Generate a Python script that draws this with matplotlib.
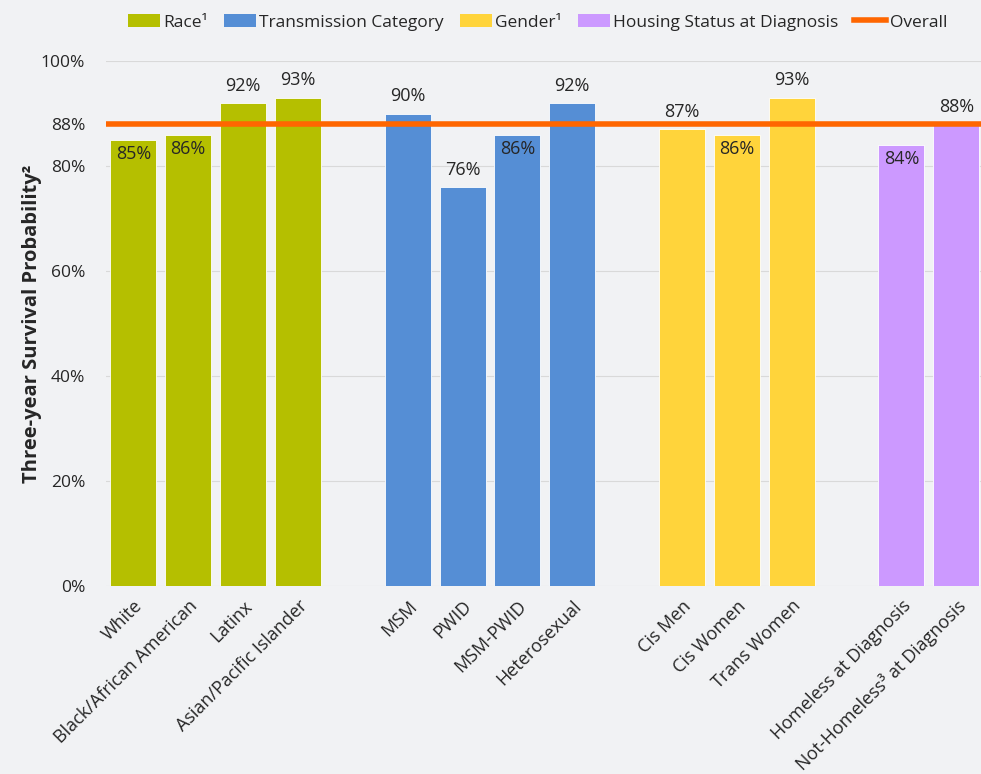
import matplotlib.pyplot as plt
from matplotlib.patches import Patch
from matplotlib.lines import Line2D

plt.rcParams['font.family'] = ['Open Sans', 'DejaVu Sans']

race_labels = ['White', 'Black/African American', 'Latinx', 'Asian/Pacific Islander']
race_values = [85, 86, 92, 93]
trans_labels = ['MSM', 'PWID', 'MSM-PWID', 'Heterosexual']
trans_values = [90, 76, 86, 92]
gender_labels = ['Cis Men', 'Cis Women', 'Trans Women']
gender_values = [87, 86, 93]
housing_labels = ['Homeless at Diagnosis', 'Not-Homeless³ at Diagnosis']
housing_values = [84, 88]
overall = 88

groups = [
    ('Race¹', race_labels, race_values, '#B5BF00'),
    ('Transmission Category', trans_labels, trans_values, '#558ED5'),
    ('Gender¹', gender_labels, gender_values, '#FFD43B'),
    ('Housing Status at Diagnosis', housing_labels, housing_values, '#CC99FF'),
]

bg = '#F1F2F4'
txt = '#262626'
fig = plt.figure(figsize=(9.81, 7.74), dpi=100, facecolor=bg)
ax = fig.add_axes([0.108, 0.243, 0.892, 0.678], facecolor=bg)

pos = 0
xticks, xlabels, handles = [], [], []
for name, labels, values, color in groups:
    xs = list(range(pos, pos + len(values)))
    ax.bar(xs, values, width=0.84, color=color, edgecolor='#FFFFFF', linewidth=0.6, zorder=2)
    for x, v in zip(xs, values):
        # labels that would sit on the overall line go inside the bar
        if 83 < v < 87:
            ax.text(x, v - 1.0, f'{v}%', ha='center', va='top', fontsize=13, color=txt, zorder=4)
        else:
            ax.text(x, v + 1.6, f'{v}%', ha='center', va='bottom', fontsize=13, color=txt, zorder=4)
    xticks += xs
    xlabels += labels
    handles.append(Patch(facecolor=color, label=name))
    pos += len(values) + 1

ax.axhline(overall, color='#FF6600', linewidth=4, zorder=3)
handles.append(Line2D([0], [0], color='#FF6600', linewidth=4, label='Overall'))

ax.set_xlim(-0.5, 15.45)
ax.set_ylim(0, 100)
yt = [0, 20, 40, 60, 80, 88, 100]
ax.set_yticks(yt)
ax.set_yticklabels([f'{t}%' for t in yt], fontsize=12.5, color=txt)
ax.yaxis.grid(True, color='#D9D9D9', linewidth=0.8, zorder=0)
ax.set_axisbelow(True)
ax.set_xticks(xticks)
ax.set_xticklabels(xlabels, rotation=45, ha='right', rotation_mode='anchor', fontsize=13, color=txt)
ax.tick_params(axis='y', length=0, pad=15)
ax.tick_params(axis='x', length=0, pad=8)
for s in ax.spines.values():
    s.set_visible(False)
ax.set_ylabel('Three-year Survival Probability²', fontsize=14.5, fontweight='bold', color=txt, labelpad=-1)

fig.legend(handles=handles, loc='center', bbox_to_anchor=(0.548, 0.971), ncol=5, frameon=False,
           fontsize=12.5, handlelength=1.85, handleheight=0.7, handletextpad=0.2, columnspacing=0.9,
           labelcolor=txt)

fig.savefig('out.png', dpi=100, facecolor=bg)
